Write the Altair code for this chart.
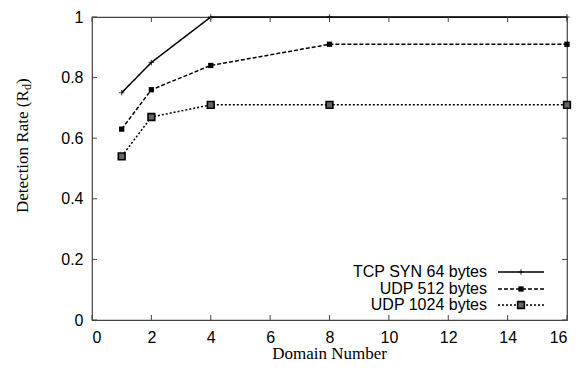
import altair as alt
import pandas as pd

# ---- data ----
domains = [1, 2, 4, 8, 16]
tcp_syn_64 = [0.75, 0.85, 1.0, 1.0, 1.0]
udp_512 = [0.63, 0.76, 0.84, 0.91, 0.91]
udp_1024 = [0.54, 0.67, 0.71, 0.71, 0.71]
series_names = ["TCP SYN 64 bytes", "UDP 512 bytes", "UDP 1024 bytes"]
x_ticks = [0, 2, 4, 6, 8, 10, 12, 14, 16]
y_ticks = [0, 0.2, 0.4, 0.6, 0.8, 1.0]
x_title = "Domain Number"

W, H = 475, 303
FRAME = "#444444"
SANS = "Liberation Sans"
SERIF = "Liberation Serif"

rows = []
for name, vals in zip(series_names, [tcp_syn_64, udp_512, udp_1024]):
    for d, v in zip(domains, vals):
        rows.append({"domain": d, "rate": v, "series": name})
df = pd.DataFrame(rows)

xs = alt.Scale(domain=[0, 16], nice=False, zero=False)
ys = alt.Scale(domain=[0, 1], nice=False)
dash_scale = alt.Scale(domain=series_names, range=[[1, 0], [4, 2], [2, 2]])

base = alt.Chart(df)

lines = base.mark_line(color="black", strokeWidth=1.5).encode(
    x=alt.X("domain:Q", scale=xs,
            axis=alt.Axis(values=x_ticks, format="d", ticks=False, domain=False, grid=False,
                          labelFont=SANS, labelFontSize=16, labelColor="black", labelPadding=9,
                          title=None)),
    y=alt.Y("rate:Q", scale=ys,
            axis=alt.Axis(values=y_ticks, format="~g", ticks=False, domain=False, grid=False,
                          labelFont=SANS, labelFontSize=16, labelColor="black", labelPadding=9,
                          title=None)),
    strokeDash=alt.StrokeDash("series:N", scale=dash_scale, legend=None),
)

plus_path = "M-1,0L1,0M0,-1L0,1"

pts_tcp = base.transform_filter(alt.datum.series == series_names[0]).mark_point(
    shape=plus_path, size=30, filled=False, stroke="black", strokeWidth=1.2
).encode(x=alt.X("domain:Q", scale=xs), y=alt.Y("rate:Q", scale=ys))

pts_512 = base.transform_filter(alt.datum.series == series_names[1]).mark_point(
    shape="square", size=28, filled=True, color="black", opacity=1
).encode(x=alt.X("domain:Q", scale=xs), y=alt.Y("rate:Q", scale=ys))

pts_1024 = base.transform_filter(alt.datum.series == series_names[2]).mark_point(
    shape="square", size=45, filled=True, fill="#666666", stroke="black", strokeWidth=1.6, opacity=1
).encode(x=alt.X("domain:Q", scale=xs), y=alt.Y("rate:Q", scale=ys))

# inward tick marks on all four sides
xt = alt.Chart(pd.DataFrame({"t": x_ticks}))
yt = alt.Chart(pd.DataFrame({"t": y_ticks}))
tick_style = dict(color=FRAME, strokeWidth=1)
ticks_bottom = xt.mark_rule(**tick_style).encode(x=alt.X("t:Q", scale=xs), y=alt.value(H), y2=alt.value(H - 5))
ticks_top = xt.mark_rule(**tick_style).encode(x=alt.X("t:Q", scale=xs), y=alt.value(0), y2=alt.value(5))
ticks_left = yt.mark_rule(**tick_style).encode(y=alt.Y("t:Q", scale=ys), x=alt.value(0), x2=alt.value(5))
ticks_right = yt.mark_rule(**tick_style).encode(y=alt.Y("t:Q", scale=ys), x=alt.value(W), x2=alt.value(W - 5))

# x-axis title
xtitle = alt.Chart(pd.DataFrame({"s": [x_title]})).mark_text(
    align="center", baseline="alphabetic", font=SERIF, fontSize=17, color="black"
).encode(text="s:N", x=alt.value(W / 2), y=alt.value(H + 39))

# y-axis title with subscript
ytitle_main = alt.Chart(pd.DataFrame({"s": ["Detection Rate (R"]})).mark_text(
    angle=270, align="left", baseline="middle", font=SERIF, fontSize=17, color="black"
).encode(text="s:N", x=alt.value(-69), y=alt.value(196))
ytitle_sub = alt.Chart(pd.DataFrame({"s": ["d"]})).mark_text(
    angle=270, align="left", baseline="middle", font=SERIF, fontSize=12, color="black"
).encode(text="s:N", x=alt.value(-65), y=alt.value(73))
ytitle_close = alt.Chart(pd.DataFrame({"s": [")"]})).mark_text(
    angle=270, align="left", baseline="middle", font=SERIF, fontSize=17, color="black"
).encode(text="s:N", x=alt.value(-69), y=alt.value(67))

# gnuplot-style legend (labels left of samples)
leg_y = [255, 272, 288]
leg_df = pd.DataFrame({"series": series_names, "ly": leg_y})
leg = alt.Chart(leg_df)
leg_text = leg.mark_text(align="right", baseline="middle", font=SANS, fontSize=16, color="black").encode(
    text="series:N", x=alt.value(395), y=alt.Y("ly:Q", scale=None))
leg_lines = leg.mark_rule(color="black", strokeWidth=1.5).encode(
    x=alt.value(406), x2=alt.value(452), y=alt.Y("ly:Q", scale=None),
    strokeDash=alt.StrokeDash("series:N", scale=dash_scale, legend=None))
leg_p1 = leg.transform_filter(alt.datum.series == series_names[0]).mark_point(
    shape=plus_path, size=30, filled=False, stroke="black", strokeWidth=1.2
).encode(x=alt.value(429), y=alt.Y("ly:Q", scale=None))
leg_p2 = leg.transform_filter(alt.datum.series == series_names[1]).mark_point(
    shape="square", size=28, filled=True, color="black", opacity=1
).encode(x=alt.value(429), y=alt.Y("ly:Q", scale=None))
leg_p3 = leg.transform_filter(alt.datum.series == series_names[2]).mark_point(
    shape="square", size=45, filled=True, fill="#666666", stroke="black", strokeWidth=1.6, opacity=1
).encode(x=alt.value(429), y=alt.Y("ly:Q", scale=None))

chart = alt.layer(
    lines, pts_tcp, pts_512, pts_1024,
    ticks_bottom, ticks_top, ticks_left, ticks_right,
    xtitle, ytitle_main, ytitle_sub, ytitle_close,
    leg_text, leg_lines, leg_p1, leg_p2, leg_p3,
).properties(
    width=W, height=H,
    autosize=alt.AutoSizeParams(type="none"),
    padding={"left": 84, "top": 9, "right": 6, "bottom": 45},
    background="white",
).configure_view(stroke=FRAME, strokeWidth=1.2)

chart.save("out.html", embed_options={"renderer": "svg", "actions": False})
